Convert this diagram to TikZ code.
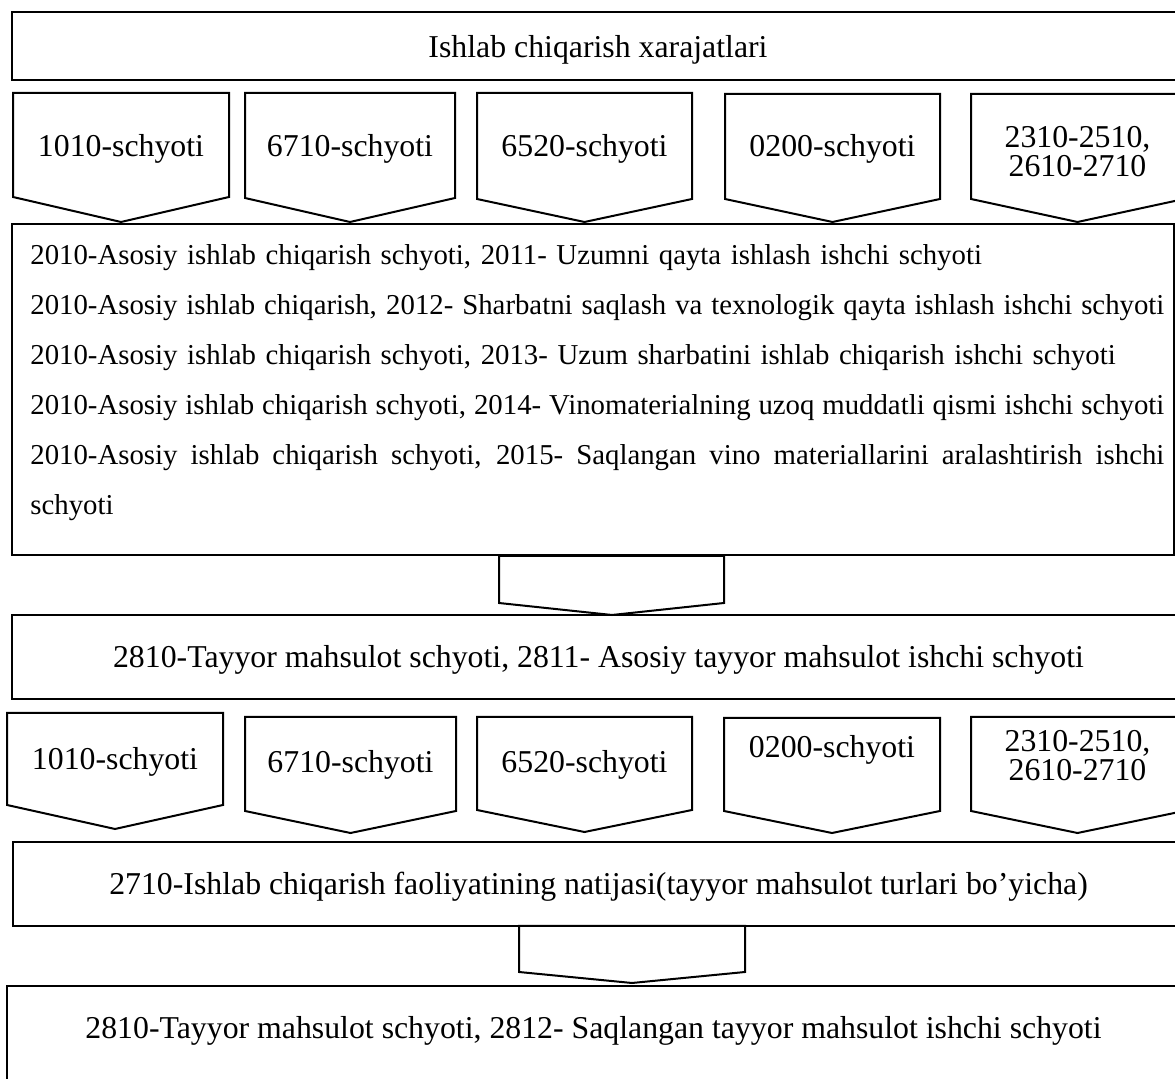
\documentclass[tikz,border=0pt]{standalone}
\usepackage{fontspec}
\setmainfont{Liberation Serif}
\begin{document}
\begin{tikzpicture}[x=0.5pt,y=-0.5pt,line join=miter]

\tikzset{quti/.style={line width=1.2pt},
	strelka/.style={line width=1pt},
	yozuv/.style={font=\fontsize{15.9}{14.5}\selectfont,inner sep=0pt,align=center}}

\clip (0,0) rectangle (1175,1079);

% katta qutilar
\draw[quti] (12,12)  rectangle (1190,80);
\draw[quti] (12,224) rectangle (1174,555);
\draw[quti] (12,615) rectangle (1190,699);
\draw[quti] (13,842) rectangle (1190,926);
\draw[quti] (7,986)  rectangle (1190,1100);

\node[yozuv] (xarajat)  at (598,58)    [anchor=base] {Ishlab chiqarish xarajatlari};
\node[yozuv] (tayyor)   at (598.5,668) [anchor=base] {2810-Tayyor mahsulot schyoti, 2811- Asosiy tayyor mahsulot ishchi schyoti};
\node[yozuv] (natija)   at (598.5,895) [anchor=base] {2710-Ishlab chiqarish faoliyatining natijasi(tayyor mahsulot turlari bo’yicha)};
\node[yozuv] (saqlangan) at (593.5,1039) [anchor=base] {2810-Tayyor mahsulot schyoti, 2812- Saqlangan tayyor mahsulot ishchi schyoti};

\def\tekis#1{\noindent{\spaceskip=.25em plus .4em minus .2em\hbox to 567pt{#1}}}
\node[font=\fontsize{14.4}{25}\selectfont,inner sep=0pt,text width=567pt,align=left]
	(schyotlar) at (30,244) [anchor=north west] {%
2010-Asosiy ishlab chiqarish schyoti, 2011- Uzumni qayta ishlash ishchi schyoti\\
\tekis{2010-Asosiy ishlab chiqarish, 2012- Sharbatni saqlash va texnologik qayta ishlash ishchi schyoti}\\
2010-Asosiy ishlab chiqarish schyoti, 2013- Uzum sharbatini ishlab chiqarish ishchi schyoti\\
\tekis{2010-Asosiy ishlab chiqarish schyoti, 2014- Vinomaterialning uzoq muddatli qismi ishchi schyoti}\\
\tekis{2010-Asosiy ishlab chiqarish schyoti, 2015- Saqlangan vino materiallarini aralashtirish ishchi}\\
schyoti};

% pastga qaragan strelkalar
\def\tushir#1#2#3#4#5#6#7#8{
\draw[strelka] (#2,#4) -- (#3,#4) -- (#3,#5) -- ({(#2+#3)/2},#6) -- (#2,#5) -- cycle;
\node[yozuv] (#1) at ({(#2+#3)/2},#7) [anchor=base] {#8};
}

\tushir{a1}{13}{229}{93}{197}{222}{157}{1010-schyoti}
\tushir{a2}{245}{455}{93}{198}{222}{157}{6710-schyoti}
\tushir{a3}{477}{692}{93}{199}{222}{157}{6520-schyoti}
\tushir{a4}{725}{940}{94}{199}{222}{157}{0200-schyoti}
\tushir{a5}{971}{1184}{94}{199}{222}{177}{2310-2510,\\2610-2710}

\tushir{b1}{7}{223}{713}{805}{829}{770}{1010-schyoti}
\tushir{b2}{245}{456}{717}{811}{833}{773}{6710-schyoti}
\tushir{b3}{477}{692}{717}{810}{832}{773}{6520-schyoti}
\tushir{b4}{724}{940}{718}{811}{833}{758}{0200-schyoti}
\tushir{b5}{971}{1184}{717}{811}{833}{781}{2310-2510,\\2610-2710}

\draw[strelka] (499,556) -- (724,556) -- (724,603) -- (612,615) -- (499,603) -- cycle;
\draw[strelka] (519,926) -- (745,926) -- (745,972) -- (632,983) -- (519,972) -- cycle;

\end{tikzpicture}
\end{document}
